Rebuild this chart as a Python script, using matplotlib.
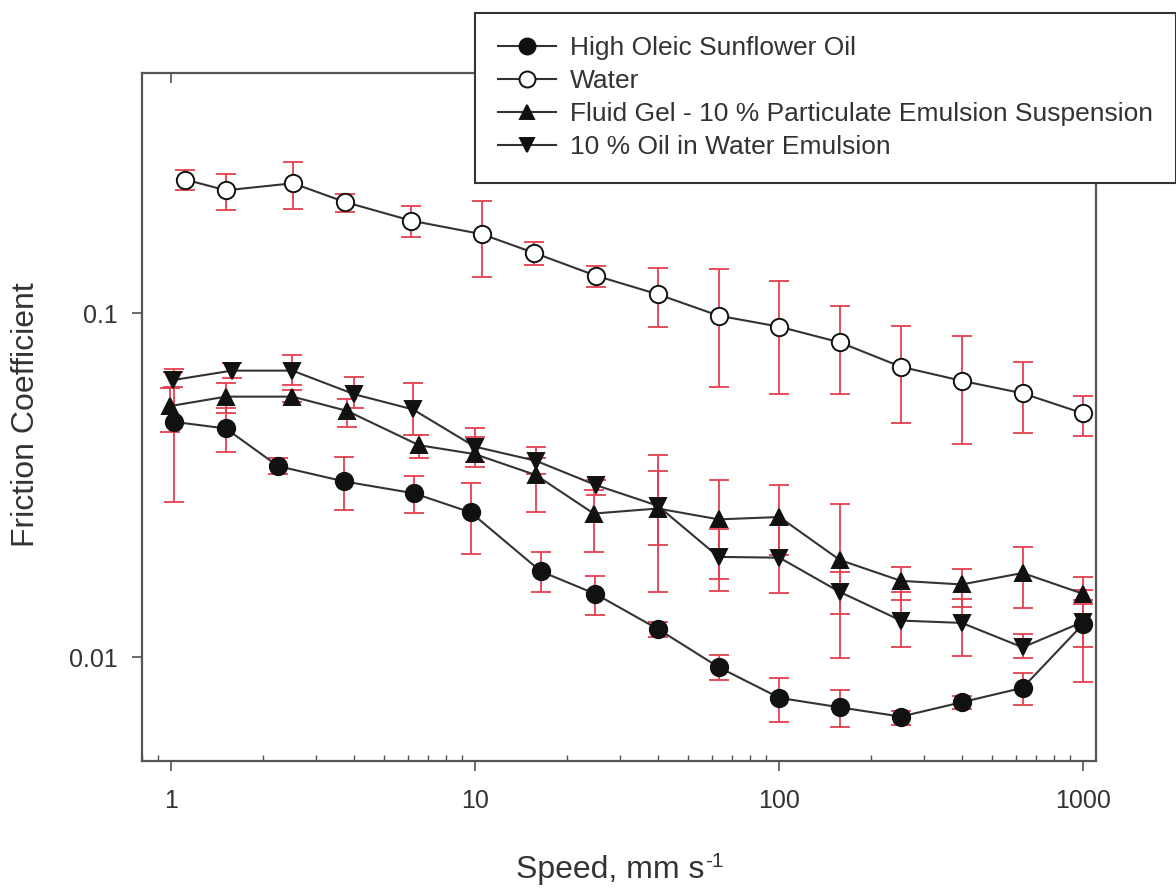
import matplotlib
matplotlib.use("Agg")
import matplotlib.pyplot as plt
from matplotlib.lines import Line2D
from matplotlib.ticker import NullLocator, NullFormatter, LogLocator
import numpy as np

plt.rcParams['font.family'] = ['Liberation Sans', 'DejaVu Sans']

# ---------------- data ----------------
labels = ["High Oleic Sunflower Oil", "Water",
          "Fluid Gel - 10 % Particulate Emulsion Suspension",
          "10 % Oil in Water Emulsion"]

speed_hoso = [1.02, 1.51, 2.24, 3.69, 6.28, 9.65, 16.4, 24.8, 39.8, 63.1, 100, 158, 251, 398, 631, 1000]
mu_hoso = [0.0484, 0.0463, 0.0360, 0.0325, 0.0300, 0.0264, 0.0178, 0.0153,
           0.0121, 0.00937, 0.00763, 0.00716, 0.00673, 0.00741, 0.00816, 0.01253]
hi_hoso = [0.0689, 0.0530, 0.0379, 0.0383, 0.0337, 0.0322, 0.0202, 0.0172,
           0.01267, 0.01018, 0.00873, 0.00805, 0.00701, 0.0077, 0.0090, 0.01465]
lo_hoso = [0.0284, 0.0396, 0.0342, 0.0269, 0.0263, 0.0200, 0.0155, 0.01325,
           0.01146, 0.00861, 0.00651, 0.00627, 0.00638, 0.0071, 0.00725, 0.00848]

speed_water = [1.11, 1.51, 2.51, 3.71, 6.16, 10.5, 15.6, 25.0, 39.8, 63.1, 100, 158, 251, 398, 631, 1000]
mu_water = [0.245, 0.228, 0.239, 0.211, 0.186, 0.170, 0.150, 0.1286,
            0.1137, 0.0985, 0.0915, 0.0824, 0.0700, 0.0637, 0.0586, 0.0512]
hi_water = [0.262, 0.254, 0.275, 0.223, 0.205, 0.212, 0.161, 0.1375,
            0.136, 0.135, 0.124, 0.1054, 0.092, 0.0862, 0.0724, 0.0576]
lo_water = [0.228, 0.200, 0.2015, 0.197, 0.167, 0.128, 0.138, 0.1197,
            0.0915, 0.0612, 0.0582, 0.0582, 0.0481, 0.0416, 0.0448, 0.0441]

speed_gel = [0.99, 1.51, 2.50, 3.78, 6.52, 9.95, 15.8, 24.5, 39.8, 63.1, 100, 158, 251, 398, 631, 1000]
mu_gel = [0.0538, 0.0573, 0.0573, 0.0521, 0.0414, 0.0390, 0.0339, 0.0262,
          0.0271, 0.0252, 0.0256, 0.0192, 0.0167, 0.0163, 0.0176, 0.0153]
hi_gel = [0.0607, 0.0626, 0.0599, 0.0563, 0.0443, 0.0437, 0.0380, 0.0306,
          0.0349, 0.0329, 0.0317, 0.0279, 0.0183, 0.0181, 0.0210, 0.0171]
lo_gel = [0.0452, 0.0512, 0.0554, 0.0468, 0.0379, 0.0357, 0.0264, 0.0202,
          0.0212, 0.0169, 0.0198, 0.0134, 0.0147, 0.0140, 0.0139, 0.0143]

speed_emul = [1.01, 1.58, 2.50, 4.00, 6.23, 9.95, 15.8, 24.9, 39.8, 63.1, 100, 158, 251, 398, 631, 1000]
mu_emul = [0.0640, 0.0682, 0.0682, 0.0582, 0.0526, 0.0410, 0.0373, 0.0317,
           0.0276, 0.0196, 0.0195, 0.0155, 0.0128, 0.0126, 0.0107, 0.0127]
hi_emul = [0.0677, 0.0716, 0.0757, 0.0652, 0.0626, 0.0464, 0.0409, 0.0328,
           0.0387, 0.0237, 0.0242, 0.0177, 0.0155, 0.0148, 0.0117, 0.0157]
lo_emul = [0.0610, 0.0648, 0.0619, 0.0530, 0.0443, 0.0370, 0.0341, 0.0296,
           0.0155, 0.0156, 0.0154, 0.00995, 0.0107, 0.0101, 0.00995, 0.0107]

xticks = [1, 10, 100, 1000]
xtick_labels = ["1", "10", "100", "1000"]
yticks = [0.01, 0.1]
ytick_labels = ["0.01", "0.1"]
xlabel_main = "Speed, mm s"
xlabel_sup = "-1"
ylabel = "Friction Coefficient"

# ---------------- style ----------------
W, H = 1176, 888
line_c = '#333333'
mark_c = '#111111'
err_c = '#e5404f'
text_c = '#333333'
spine_c = '#555555'

fig = plt.figure(figsize=(W / 100, H / 100), dpi=100)
ax = fig.add_axes([142 / W, 1 - 761 / H, (1096 - 142) / W, (761 - 73) / H])
ax.set_xscale('log')
ax.set_yscale('log')
ax.set_xlim(0.8, 1100)
ax.set_ylim(0.005, 0.5)

series = [
    (speed_hoso, mu_hoso, lo_hoso, hi_hoso, 'o', mark_c),
    (speed_water, mu_water, lo_water, hi_water, 'o', 'white'),
    (speed_gel, mu_gel, lo_gel, hi_gel, '^', mark_c),
    (speed_emul, mu_emul, lo_emul, hi_emul, 'v', mark_c),
]

handles = []
for (sx, m, lo, hi, mk, fc) in series:
    m_ = np.array(m); lo_ = np.array(lo); hi_ = np.array(hi)
    ax.errorbar(sx, m_, yerr=[m_ - lo_, hi_ - m_], fmt='none', ecolor=err_c,
                elinewidth=1.3, capsize=7.5, capthick=1.3, zorder=1)
    ms = 12.5 if mk == 'o' else 11.5
    ax.plot(sx, m_, color=line_c, lw=1.5, zorder=2)
    ax.plot(sx, m_, linestyle='none', marker=mk, markersize=ms, markerfacecolor=fc,
            markeredgecolor=mark_c, markeredgewidth=1.4, zorder=3)
    handles.append(Line2D([], [], color=line_c, lw=1.5, marker=mk, markersize=ms - 1,
                          markerfacecolor=fc, markeredgecolor=mark_c, markeredgewidth=1.4))

for s in ax.spines.values():
    s.set_color(spine_c)
    s.set_linewidth(1.6)

ax.set_xticks(xticks)
ax.set_xticklabels(xtick_labels)
ax.xaxis.set_minor_locator(LogLocator(base=10, subs=np.arange(2, 10)))
ax.xaxis.set_minor_formatter(NullFormatter())
ax.set_yticks(yticks)
ax.set_yticklabels(ytick_labels)
ax.yaxis.set_minor_locator(NullLocator())

ax.tick_params(axis='x', which='major', direction='out', length=7.5, width=1.2,
               color=spine_c, labelsize=18, labelcolor=text_c, pad=13)
ax.tick_params(axis='x', which='minor', direction='in', length=4.5, width=1.0,
               color=spine_c)
ax.tick_params(axis='y', which='major', direction='out', length=7.5, width=1.2,
               color=spine_c, labelsize=18, labelcolor=text_c, pad=10)

# top ticks (inward, majors only)
ax2 = ax.twiny()
ax2.set_xscale('log')
ax2.set_xlim(ax.get_xlim())
ax2.set_xticks(xticks)
ax2.set_xticklabels([])
ax2.xaxis.set_minor_locator(NullLocator())
ax2.tick_params(axis='x', which='major', direction='in', length=7.5, width=1.2, color=spine_c)
for s in ax2.spines.values():
    s.set_visible(False)

# x label with hyphen superscript
xl = fig.text(516 / W, 1 - 870 / H, xlabel_main, ha='left', va='center',
              fontsize=23, color=text_c)
fig.canvas.draw()
bb = xl.get_window_extent()
fig.text((bb.x1 + 1) / W, (bb.y1 + 3) / H, xlabel_sup, ha='left', va='top',
         fontsize=15, color=text_c)

fig.text(26 / W, 1 - 415 / H, ylabel, ha='center', va='center',
         rotation=90, fontsize=23, color=text_c)

leg = fig.legend(handles, labels, loc='upper left',
                 bbox_to_anchor=(474.5 / W, 1 - 12.7 / H), bbox_transform=fig.transFigure,
                 frameon=True, fancybox=False, framealpha=1.0, fontsize=19, handlelength=2.2,
                 handletextpad=0.5, borderpad=0.9, labelspacing=0.34, borderaxespad=0)
leg.get_frame().set_edgecolor('#333333')
leg.get_frame().set_facecolor('white')
leg.get_frame().set_linewidth(1.5)
leg.set_zorder(10)
for t in leg.get_texts():
    t.set_color(text_c)

fig.savefig('out.png', dpi=100)
